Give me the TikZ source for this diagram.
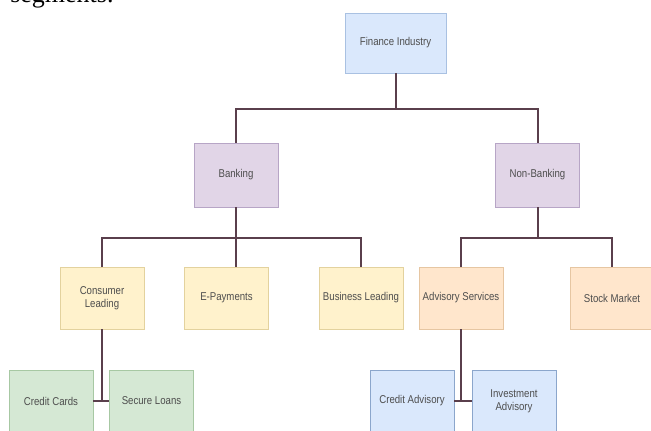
\documentclass[tikz,border=0pt]{standalone}
\usepackage{fontspec}
\setmainfont{Liberation Serif}
\setsansfont{Liberation Sans}[FakeStretch=0.85]
\usepackage{tikz}

\definecolor{topfill}{HTML}{DAE8FC}
\definecolor{topline}{HTML}{A9C1E2}
\definecolor{segfill}{HTML}{E1D5E7}
\definecolor{segline}{HTML}{B7A5C6}
\definecolor{subfill}{HTML}{FFF2CC}
\definecolor{subline}{HTML}{E3D29E}
\definecolor{advfill}{HTML}{FFE6CC}
\definecolor{advline}{HTML}{E6C6A2}
\definecolor{loanfill}{HTML}{D5E8D4}
\definecolor{loanline}{HTML}{A7C8A3}
\definecolor{caline}{HTML}{8BA6CC}
\definecolor{linkcol}{HTML}{5A3F4C}
\definecolor{textcol}{HTML}{4D4D4D}

\tikzset{
    box/.style={draw, line width=0.5pt, align=center, inner sep=1pt, text=textcol,
        minimum width=63pt, minimum height=46.5pt,
        font=\sffamily\fontsize{8.5}{10}\selectfont},
    link/.style={draw=linkcol, line width=1.5pt}
}

\begin{document}
\begin{tikzpicture}[x=0.75pt, y=-0.75pt]
    \useasboundingbox (0, 0) rectangle (651, 431);
    \clip (0, 0) rectangle (651, 431);
    \node[anchor=base west, inner sep=0, font=\fontsize{19.5}{22}\selectfont] (seg) at (10, 3) {segments.};

    \node[box, fill=topfill, draw=topline, minimum width=75.75pt, minimum height=45pt] (fin) at (395.5, 43) {Finance Industry};

    \node[box, fill=segfill, draw=segline, minimum height=48pt] (bank) at (236, 175) {Banking};
    \node[box, fill=segfill, draw=segline, minimum height=48pt] (nonbank) at (537.5, 175) {Non-Banking};

    \node[box, fill=subfill, draw=subline] (cons) at (102, 298) {Consumer\\Leading};
    \node[box, fill=subfill, draw=subline] (epay) at (226.5, 298) {E-Payments};
    \node[box, fill=subfill, draw=subline] (busl) at (361, 298) {Business Leading};
    \node[box, fill=advfill, draw=advline] (adv) at (461, 298) {Advisory Services};
    \node[box, fill=advfill, draw=advline] (stock) at (612, 298) {Stock Market};

    \node[box, fill=loanfill, draw=loanline] (cards) at (51, 401) {Credit Cards};
    \node[box, fill=loanfill, draw=loanline] (loans) at (151.5, 401) {Secure Loans};
    \node[box, fill=topfill, draw=caline] (cadv) at (412, 401) {Credit Advisory};
    \node[box, fill=topfill, draw=caline] (invadv) at (514, 401) {Investment\\Advisory};

    \draw[link] (fin.south) -- ++(0, 36) -| (bank.north);
    \draw[link] (fin.south) ++(0, 36) -| (nonbank.north);

    \draw[link] (bank.south) -- ++(0, 31) -| (cons.north);
    \draw[link] (bank.south) ++(0, 31) -| (busl.north);
    \draw[link] (bank.south) -- (bank.south |- epay.north);
    \draw[link] (nonbank.south) -- ++(0, 31) -| (adv.north);
    \draw[link] (nonbank.south) ++(0, 31) -| (stock.north);

    \draw[link] (cons.south) -- (cons.south |- cards.east);
    \draw[link] (cards.east) -- (loans.west);
    \draw[link] (adv.south) -- (adv.south |- cadv.east);
    \draw[link] (cadv.east) -- (invadv.west);
\end{tikzpicture}
\end{document}
